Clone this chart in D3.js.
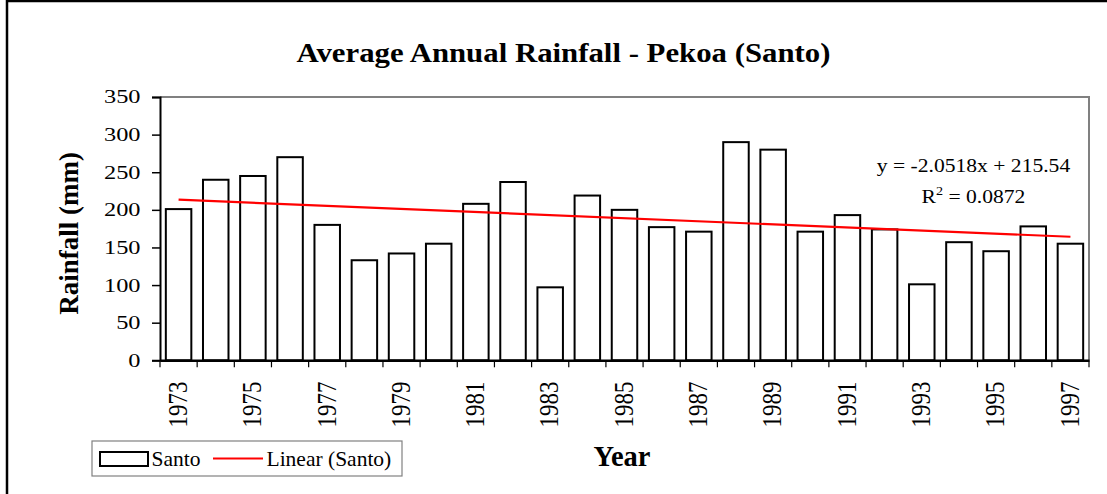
<!DOCTYPE html>
<html>
<head>
<meta charset="utf-8">
<script src="https://cdn.jsdelivr.net/npm/d3@7"></script>
<style>
  html, body { margin: 0; padding: 0; background: #fff; }
  svg { display: block; }
  text { font-family: "Liberation Serif", "Times New Roman", Times, serif; fill: #000; }
</style>
</head>
<body>
<svg id="chart" width="1107" height="494"></svg>
<script>
const years = [1973,1974,1975,1976,1977,1978,1979,1980,1981,1982,1983,1984,1985,1986,1987,1988,1989,1990,1991,1992,1993,1994,1995,1996,1997];
const rainfall = [201,240,245,270,180,133,142,155,208,237,97,219,200,177,171,290,280,171,193,174,101,157,145,178,155];
const yTicks = [0,50,100,150,200,250,300,350];
const trendSlope = -2.0518;
const trendIntercept = 215.54;
const trendLabel = "y = -2.0518x + 215.54";
const r2Label = "0.0872";

const svg = d3.select("#chart");
const m = {left: 160, right: 1089, top: 97, bottom: 360.3};

// outer frame
svg.append("rect").attr("x", 7).attr("y", 1).attr("width", 1110).attr("height", 500)
  .attr("fill", "none").attr("stroke", "#000").attr("stroke-width", 2.5);

const xb = d3.scaleBand().domain(years).range([m.left, m.right]);
const y = d3.scaleLinear().domain([0, 350]).range([m.bottom, m.top]);
const barW = 25.5;

// plot border (grey top & right)
svg.append("path")
  .attr("d", `M${m.left},${m.top}H${m.right}V${m.bottom}`)
  .attr("fill", "none").attr("stroke", "#808080").attr("stroke-width", 2);

// bars
svg.append("g").selectAll("rect").data(years).join("rect")
  .attr("x", (d) => xb(d) + (xb.bandwidth() - barW) / 2)
  .attr("width", barW)
  .attr("y", (d, i) => y(rainfall[i]))
  .attr("height", (d, i) => y(0) - y(rainfall[i]))
  .attr("fill", "#fff").attr("stroke", "#000").attr("stroke-width", 2);

// y axis
const yAxis = d3.axisLeft(y).tickValues(yTicks).tickSize(8).tickFormat(() => "");
const gy = svg.append("g").attr("transform", `translate(${m.left},0)`).call(yAxis);
gy.select(".domain").attr("stroke", "#000").attr("stroke-width", 2);
gy.selectAll(".tick line").attr("stroke", "#000").attr("stroke-width", 1.5);
svg.append("g").selectAll("text").data(yTicks).join("text")
  .attr("transform", d => `translate(140.5,${y(d)}) scale(1.25,1)`)
  .attr("text-anchor", "end").attr("dy", "0.33em")
  .attr("font-size", 19.5)
  .text(d => d);

// x axis
const xAxis = d3.axisBottom(xb).tickSize(0).tickFormat(() => "");
const gx = svg.append("g").attr("transform", `translate(0,${m.bottom})`).call(xAxis);
gx.select(".domain").attr("stroke", "#000").attr("stroke-width", 2.5);
const bounds = years.map(d => xb(d)).concat([m.right]);
gx.selectAll("line.bt").data(bounds).join("line").attr("class", "bt")
  .attr("x1", d => d).attr("x2", d => d).attr("y1", 0).attr("y2", 7)
  .attr("stroke", "#000").attr("stroke-width", 1.2);
svg.append("g").selectAll("text").data(years.filter((d, i) => i % 2 === 0)).join("text")
  .attr("transform", d => `translate(${xb(d) + xb.bandwidth() / 2 + 8.3},381.5) scale(1.16,1) rotate(-90)`)
  .attr("text-anchor", "end")
  .attr("font-size", 23)
  .text(d => d);

// trend line
const n = years.length;
svg.append("line")
  .attr("x1", xb(years[0]) + xb.bandwidth() / 2)
  .attr("x2", xb(years[n - 1]) + xb.bandwidth() / 2)
  .attr("y1", y(trendSlope * 1 + trendIntercept))
  .attr("y2", y(trendSlope * n + trendIntercept))
  .attr("stroke", "#ff0000").attr("stroke-width", 2.2);

// equation
svg.append("text").attr("transform", "translate(973.5,171.7) scale(1.18,1)").attr("text-anchor", "middle")
  .attr("font-size", 18.3).text(trendLabel);
const r2 = svg.append("text").attr("transform", "translate(973.5,202.7) scale(1.18,1)").attr("text-anchor", "middle").attr("font-size", 18.3);
r2.append("tspan").text("R");
r2.append("tspan").attr("font-size", 12).attr("dy", -8).text("2");
r2.append("tspan").attr("dy", 8).text(" = " + r2Label);

// title
svg.append("text").attr("transform", "translate(563.5,62.3) scale(1.12,1)").attr("text-anchor", "middle")
  .attr("font-size", 27.5).attr("font-weight", "bold").text("Average Annual Rainfall - Pekoa (Santo)");

// axis titles
svg.append("text").attr("transform", "translate(77.5,233.4) rotate(-90)").attr("text-anchor", "middle")
  .attr("font-size", 27).attr("font-weight", "bold").text("Rainfall (mm)");
svg.append("text").attr("x", 622).attr("y", 466).attr("text-anchor", "middle")
  .attr("font-size", 28.5).attr("font-weight", "bold").text("Year");

// legend
const lg = svg.append("g");
lg.append("rect").attr("x", 92).attr("y", 441).attr("width", 310).attr("height", 35)
  .attr("fill", "#fff").attr("stroke", "#808080").attr("stroke-width", 1.2);
lg.append("rect").attr("x", 100).attr("y", 452).attr("width", 48).attr("height", 14)
  .attr("fill", "#fff").attr("stroke", "#000").attr("stroke-width", 2);
lg.append("text").attr("x", 151.5).attr("y", 466).attr("font-size", 21.5).text("Santo");
lg.append("line").attr("x1", 213).attr("x2", 263).attr("y1", 458.5).attr("y2", 458.5)
  .attr("stroke", "#ff0000").attr("stroke-width", 2.2);
lg.append("text").attr("x", 266.5).attr("y", 466).attr("font-size", 21.5).text("Linear (Santo)");
</script>
</body>
</html>
